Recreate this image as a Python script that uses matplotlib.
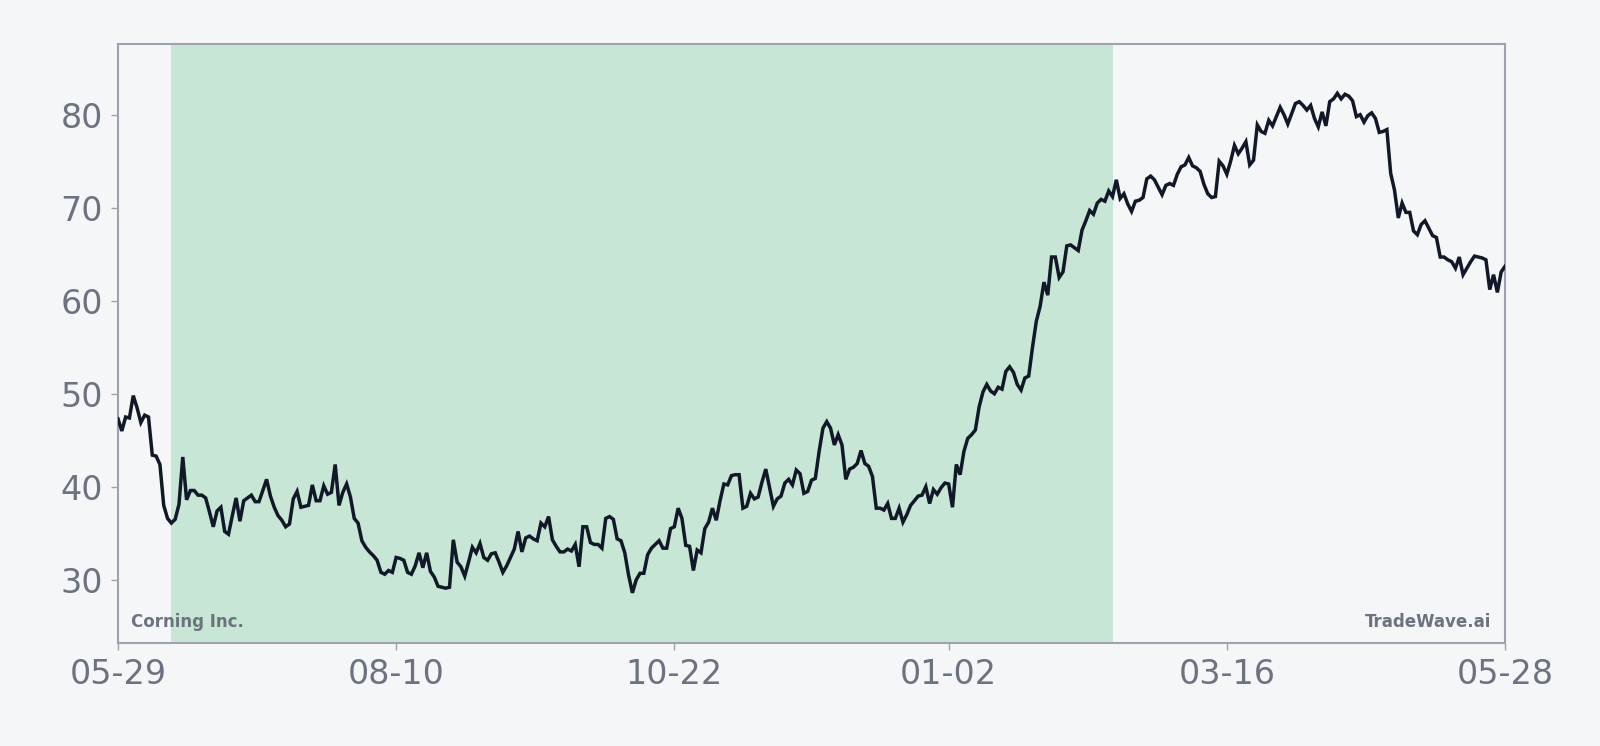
import matplotlib
matplotlib.use("Agg")
import matplotlib.pyplot as plt
import matplotlib.dates as mdates
import pandas as pd

start_date = "2024-05-29"
end_date = "2025-05-28"
shade_start = "2024-06-12"
shade_end = "2025-02-14"
company = "Corning Inc."
brand = "TradeWave.ai"
tick_dates = ["2024-05-29", "2024-08-10", "2024-10-22", "2025-01-02", "2025-03-16", "2025-05-28"]
y_ticks = [30, 40, 50, 60, 70, 80]

prices = [
    47.3, 46.0, 47.5, 47.4, 49.8, 48.5, 46.9, 47.7, 47.5, 43.4,
    43.3, 42.4, 38.0, 36.6, 36.1, 36.5, 38.1, 43.2, 38.6, 39.6,
    39.6, 39.1, 39.1, 38.8, 37.3, 35.7, 37.4, 37.8, 35.2, 34.9,
    36.9, 38.8, 36.3, 38.5, 38.8, 39.1, 38.4, 38.4, 39.6, 40.8,
    39.0, 37.8, 36.9, 36.4, 35.7, 36.0, 38.7, 39.5, 37.8, 37.9,
    38.0, 40.2, 38.5, 38.5, 40.1, 39.2, 39.4, 42.4, 38.0, 39.4,
    40.3, 38.9, 36.6, 36.1, 34.2, 33.5, 33.0, 32.6, 32.1, 30.8,
    30.6, 31.0, 30.8, 32.4, 32.3, 32.1, 30.8, 30.6, 31.5, 32.9,
    31.3, 32.9, 30.9, 30.3, 29.3, 29.2, 29.1, 29.2, 34.3, 31.9,
    31.4, 30.4, 31.9, 33.5, 32.9, 33.9, 32.4, 32.1, 32.8, 32.9,
    31.9, 30.8, 31.5, 32.4, 33.3, 35.2, 33.0, 34.5, 34.7, 34.4,
    34.2, 36.1, 35.7, 36.8, 34.3, 33.6, 33.0, 33.0, 33.3, 33.1,
    33.8, 31.4, 35.7, 35.7, 34.0, 33.8, 33.8, 33.4, 36.6, 36.8,
    36.5, 34.4, 34.2, 32.9, 30.5, 28.6, 30.0, 30.7, 30.7, 32.7,
    33.4, 33.8, 34.2, 33.4, 33.4, 35.5, 35.7, 37.7, 36.6, 33.7,
    33.6, 31.0, 33.2, 32.9, 35.5, 36.2, 37.7, 36.4, 38.5, 40.3,
    40.2, 41.2, 41.3, 41.3, 37.7, 37.9, 39.3, 38.7, 38.9, 40.5,
    41.9, 39.9, 37.9, 38.7, 39.0, 40.4, 40.8, 40.2, 41.8, 41.4,
    39.3, 39.5, 40.7, 40.9, 43.8, 46.3, 47.0, 46.3, 44.5, 45.6,
    44.5, 40.8, 41.9, 42.1, 42.5, 43.9, 42.5, 42.2, 41.1, 37.7,
    37.7, 37.5, 38.2, 36.6, 36.6, 37.7, 36.2, 37.0, 38.0, 38.5,
    39.0, 39.1, 40.0, 38.2, 39.7, 39.2, 39.9, 40.4, 40.3, 37.8,
    42.4, 41.3, 43.8, 45.2, 45.6, 46.1, 48.6, 50.2, 51.0, 50.3,
    50.0, 50.7, 50.5, 52.4, 52.9, 52.3, 51.0, 50.4, 51.7, 51.9,
    55.0, 57.8, 59.4, 62.0, 60.6, 64.7, 64.7, 62.5, 63.1, 65.9,
    66.0, 65.7, 65.4, 67.6, 68.6, 69.7, 69.3, 70.5, 70.9, 70.7,
    71.8, 71.2, 73.0, 71.0, 71.5, 70.4, 69.6, 70.7, 70.8, 71.1,
    73.1, 73.4, 73.0, 72.2, 71.4, 72.4, 72.6, 72.4, 73.6, 74.4,
    74.6, 75.4, 74.5, 74.3, 73.9, 72.5, 71.5, 71.1, 71.2, 75.0,
    74.5, 73.6, 75.0, 76.7, 75.8, 76.4, 77.1, 74.6, 75.1, 78.9,
    78.2, 78.0, 79.4, 78.8, 79.8, 80.8, 80.0, 79.0, 80.1, 81.2,
    81.4, 81.0, 80.5, 81.0, 79.6, 78.7, 80.3, 78.8, 81.4, 81.7,
    82.3, 81.7, 82.2, 82.0, 81.5, 79.8, 80.0, 79.2, 79.9, 80.2,
    79.6, 78.1, 78.2, 78.4, 73.7, 71.9, 68.9, 70.5, 69.5, 69.5,
    67.5, 67.1, 68.2, 68.6, 67.8, 67.0, 66.8, 64.7, 64.7, 64.4,
    64.2, 63.5, 64.7, 62.8, 63.5, 64.2, 64.8, 64.7, 64.6, 64.4,
    61.2, 62.8, 60.9, 63.1, 63.7,
]

dates = pd.date_range(start_date, end_date, freq="D")
series = pd.Series(prices, index=dates[:len(prices)])

BG = "#f5f6f8"
TXT = "#6b7280"
SPINE = "#9ca3af"

fig = plt.figure(figsize=(16, 7.46), dpi=100, facecolor=BG)
ax = fig.add_axes([0.07375, 0.138, 0.86687, 0.803])
ax.set_facecolor(BG)

ax.axvspan(pd.Timestamp(shade_start), pd.Timestamp(shade_end), color="#c8e6d5", lw=0, zorder=1)
ax.plot(series.index, series.values, color="#111827", lw=2.5, zorder=3,
        solid_joinstyle="miter")

ax.set_xlim(pd.Timestamp(start_date), pd.Timestamp(end_date))
ax.set_ylim(23.2, 87.6)
ax.set_xticks([pd.Timestamp(d) for d in tick_dates])
ax.xaxis.set_major_formatter(mdates.DateFormatter("%m-%d"))
ax.set_yticks(y_ticks)

for s in ax.spines.values():
    s.set_color(SPINE)
    s.set_linewidth(1.5)

ax.tick_params(axis="both", colors=SPINE, labelcolor=TXT, labelsize=24,
               length=5, width=1)
ax.tick_params(axis="x", pad=6)
ax.tick_params(axis="y", pad=6)

ax.text(0.0095, 0.02, company, transform=ax.transAxes, ha="left", va="bottom",
        fontsize=12, fontweight="bold", color=TXT, zorder=4)
ax.text(0.99, 0.02, brand, transform=ax.transAxes, ha="right", va="bottom",
        fontsize=12, fontweight="bold", color=TXT, zorder=4)

fig.savefig("out.png", dpi=100, facecolor=BG)
